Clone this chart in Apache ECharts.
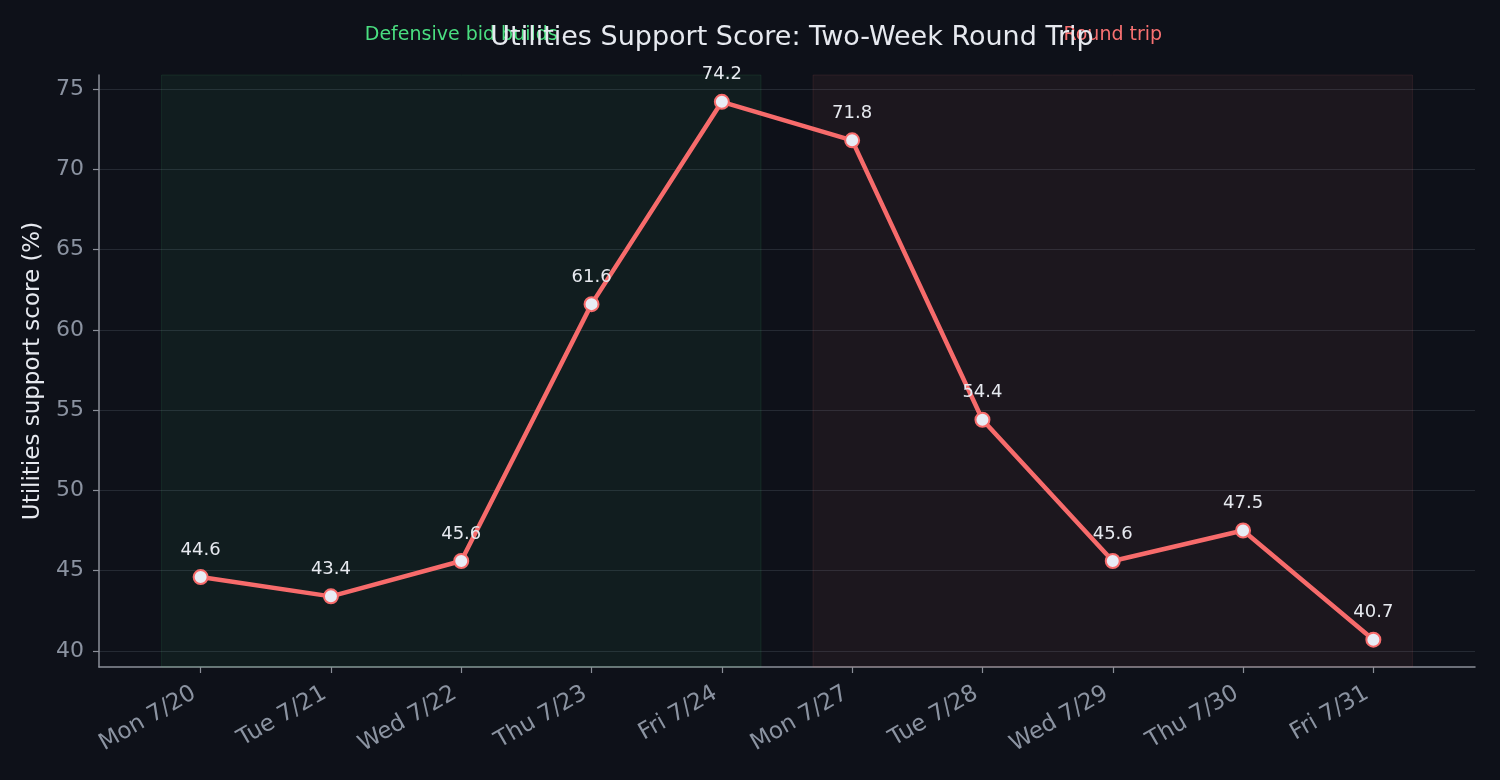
<!DOCTYPE html>
<html>
<head>
<meta charset="utf-8">
<script src="https://cdn.jsdelivr.net/npm/echarts@6/dist/echarts.min.js"></script>
<style>
html,body{margin:0;padding:0;background:#0e1119;}
#chart{width:1500px;height:780px;}
</style>
</head>
<body>
<div id="chart"></div>
<script>
const categories = ['Mon 7/20','Tue 7/21','Wed 7/22','Thu 7/23','Fri 7/24','Mon 7/27','Tue 7/28','Wed 7/29','Thu 7/30','Fri 7/31'];
const scores = [44.6, 43.4, 45.6, 61.6, 74.2, 71.8, 54.4, 45.6, 47.5, 40.7];
const yTicks = [40, 45, 50, 55, 60, 65, 70, 75];
const xTicks = categories.map((c, i) => i);
const phaseNames = ['Defensive bid builds', 'Round trip'];
const phaseFrom = [-0.3, 4.7];
const phaseTo = [4.3, 9.3];
const phaseColors = ['#4ade80', '#f87171'];
const phaseFills = ['rgba(74,222,128,0.06)', 'rgba(248,113,113,0.06)'];
const phaseBorders = ['rgba(74,222,128,0.10)', 'rgba(248,113,113,0.10)'];

const FONT = 'DejaVu Sans';
const chart = echarts.init(document.getElementById('chart'), null, {renderer: 'canvas'});
const option = {
  backgroundColor: '#0e1119',
  animation: false,
  textStyle: {fontFamily: FONT},
  title: {
    text: 'Utilities Support Score: Two-Week Round Trip',
    left: 787, top: 19, textAlign: 'center',
    textStyle: {color: '#e6e9ef', fontSize: 27, fontWeight: 'normal', fontFamily: FONT}
  },
  grid: {left: 99, right: 25, top: 75, bottom: 113},
  xAxis: {
    type: 'value', min: -0.78, max: 9.78,
    axisLine: {show: true, onZero: false, lineStyle: {color: '#8b8f98', width: 1.5}},
    axisTick: {show: true, customValues: xTicks, length: 6, lineStyle: {color: '#8b8f98', width: 1.2}},
    axisLabel: {
      customValues: xTicks, rotate: 30, margin: 21,
      color: '#8b93a1', fontSize: 23, fontFamily: FONT,
      formatter: v => (categories[Math.round(v)] || '') + ' '
    },
    splitLine: {show: false}
  },
  yAxis: {
    type: 'value', min: 39.0, max: 75.87,
    name: 'Utilities support score (%)', nameLocation: 'middle', nameRotate: 90, nameGap: 54,
    nameTextStyle: {color: '#e6e9ef', fontSize: 23, fontFamily: FONT},
    axisLine: {show: true, onZero: false, lineStyle: {color: '#8b8f98', width: 1.5}},
    axisTick: {show: true, customValues: yTicks, length: 6, lineStyle: {color: '#8b8f98', width: 1.2}},
    axisLabel: {customValues: yTicks, margin: 15, color: '#8b93a1', fontSize: 22, fontFamily: FONT},
    splitLine: {show: true, lineStyle: {color: '#252a33', width: 1.2}}
  },
  series: [{
    type: 'line',
    data: scores.map((v, i) => [i, v]),
    lineStyle: {color: '#f76b6b', width: 4.5},
    itemStyle: {color: '#e8ecf5', borderColor: '#f76b6b', borderWidth: 2},
    symbol: 'circle', symbolSize: 14,
    label: {
      show: true, position: 'top', distance: 10,
      color: '#e6e9ef', fontSize: 18, fontFamily: FONT,
      formatter: p => p.value[1].toFixed(1)
    },
    markArea: {
      silent: true,
      data: phaseNames.map((name, k) => [
        {xAxis: phaseFrom[k], itemStyle: {color: phaseFills[k], borderColor: phaseBorders[k], borderWidth: 1},
         label: {show: true, position: 'top', distance: 30, formatter: name, color: phaseColors[k], fontSize: 19, fontFamily: FONT}},
        {xAxis: phaseTo[k]}
      ])
    },
    z: 3
  }]
};
chart.setOption(option);
</script>
</body>
</html>
